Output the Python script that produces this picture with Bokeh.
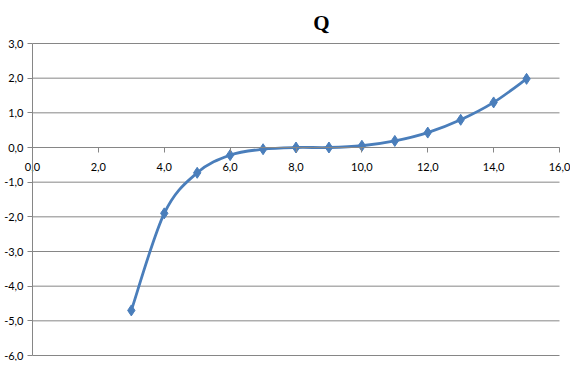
from bokeh.plotting import figure
from bokeh.models import FixedTicker, Range1d, Label
from bokeh.embed import file_html
from bokeh.resources import INLINE

# data
x_vals = [3, 4, 5, 6, 7, 8, 9, 10, 11, 12, 13, 14, 15]
q_vals = [-4.7, -1.9, -0.73, -0.22, -0.05, 0.0, 0.0, 0.05, 0.19, 0.43, 0.8, 1.3, 1.98]
x_ticks = [0, 2, 4, 6, 8, 10, 12, 14, 16]
y_ticks = [-6, -5, -4, -3, -2, -1, 0, 1, 2, 3]
title_text = "Q"

def fmt(v):
    return f"{v:.1f}".replace(".", ",")

W, H = 570, 361
# pixel layout of the plotting area inside the canvas
left_px, right_px, top_px, bottom_px = 32, 559, 43, 355
xs = (right_px - left_px) / (x_ticks[-1] - x_ticks[0])
ys = (bottom_px - top_px) / (y_ticks[-1] - y_ticks[0])
x_range = Range1d(x_ticks[0] - left_px / xs, x_ticks[-1] + (W - right_px) / xs)
y_range = Range1d(y_ticks[0] - (H - bottom_px) / ys, y_ticks[-1] + top_px / ys)

p = figure(width=W, height=H, output_backend="svg", toolbar_location=None,
           x_range=x_range, y_range=y_range,
           min_border_left=0, min_border_right=0, min_border_top=0, min_border_bottom=0)
p.outline_line_color = None
p.background_fill_color = "white"
p.border_fill_color = "white"

grey = "#868686"
lab_font = "Lato"

# horizontal gridlines from x=0 to x=16
p.xgrid.visible = False
p.ygrid.visible = False
p.segment(x0=[x_ticks[0]] * len(y_ticks), x1=[x_ticks[-1]] * len(y_ticks),
          y0=y_ticks, y1=y_ticks, line_color=grey, line_width=1)

# y axis at x=0
ya = p.yaxis[0]
ya.fixed_location = 0
ya.bounds = (y_ticks[0], y_ticks[-1])
ya.ticker = FixedTicker(ticks=y_ticks)
ya.major_label_overrides = {v: fmt(v) for v in y_ticks}
ya.axis_line_color = grey
ya.major_tick_line_color = grey
ya.major_tick_out = 5
ya.major_tick_in = 0
ya.minor_tick_line_color = None
ya.major_label_text_font = lab_font
ya.major_label_text_font_size = "11px"
ya.major_label_text_color = "#000000"
ya.major_label_standoff = 4

# x axis at y=0
xa = p.xaxis[0]
xa.fixed_location = 0
xa.bounds = (x_ticks[0], x_ticks[-1])
xa.ticker = FixedTicker(ticks=x_ticks)
xa.major_label_overrides = {v: fmt(v) for v in x_ticks}
xa.axis_line_color = grey
xa.major_tick_line_color = grey
xa.major_tick_out = 5
xa.major_tick_in = 0
xa.minor_tick_line_color = None
xa.major_label_text_font = lab_font
xa.major_label_text_font_size = "11px"
xa.major_label_text_color = "#000000"
xa.major_label_standoff = 10

# title
p.add_layout(Label(x=321, y=H - 22, x_units="screen", y_units="screen", text=title_text,
                   text_align="center", text_baseline="alphabetic",
                   text_font="Liberation Serif", text_font_style="bold",
                   text_font_size="21px", text_color="#000000"))

# smoothed line (Bezier segments through the data points)
n = len(x_vals)
x0s, y0s, x1s, y1s, cx0, cy0, cx1, cy1 = [], [], [], [], [], [], [], []
for i in range(n - 1):
    pa = (x_vals[max(i - 1, 0)], q_vals[max(i - 1, 0)])
    pb = (x_vals[i], q_vals[i])
    pc = (x_vals[i + 1], q_vals[i + 1])
    pd = (x_vals[min(i + 2, n - 1)], q_vals[min(i + 2, n - 1)])
    x0s.append(pb[0]); y0s.append(pb[1])
    x1s.append(pc[0]); y1s.append(pc[1])
    cx0.append(pb[0] + (pc[0] - pa[0]) / 6); cy0.append(pb[1] + (pc[1] - pa[1]) / 6)
    cx1.append(pc[0] - (pd[0] - pb[0]) / 6); cy1.append(pc[1] - (pd[1] - pb[1]) / 6)

blue = "#4A7EBB"
p.bezier(x0=x0s, y0=y0s, x1=x1s, y1=y1s, cx0=cx0, cy0=cy0, cx1=cx1, cy1=cy1,
         line_color=blue, line_width=2.8)
p.scatter(x_vals, q_vals, marker="diamond", size=11, color=blue)

open("out.html", "w").write(file_html(p, INLINE))
